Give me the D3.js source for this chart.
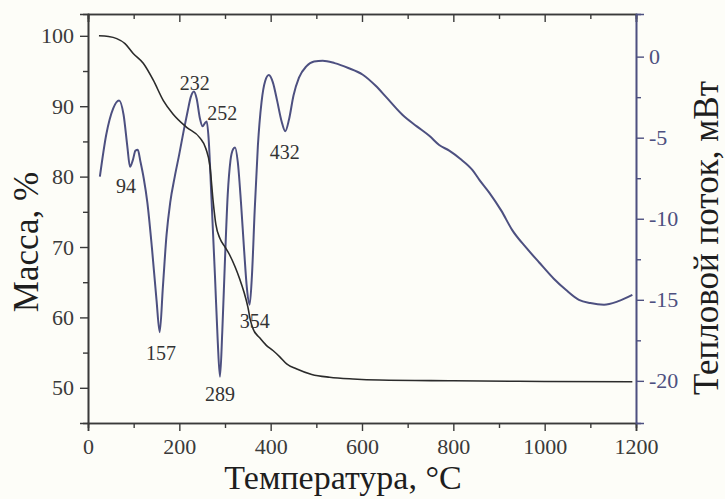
<!DOCTYPE html>
<html>
<head>
    <meta charset="utf-8" />
    <script src="https://d3js.org/d3.v7.min.js"></script>
    <style>
    body { margin: 0; background: #fdfdf8; }
    svg { display: block; font-family: "Liberation Serif", "DejaVu Serif", serif; }
    .curve { fill: none; stroke-linejoin: round; }
    </style>
</head>
<body>
<svg id="chart" width="725" height="499"></svg>
<script>
    // mass curve (TG), temperature in °C -> mass %
    var massT   = [24, 45, 63, 81, 99, 121, 143, 165, 186, 216, 245, 258, 267, 274, 280, 289, 300, 310, 322, 332, 342, 350, 356, 362, 376, 391, 405, 420, 435, 456, 490, 529, 580, 638, 800, 1000, 1192];
    var massVal = [100, 99.9, 99.6, 98.9, 97.5, 96.1, 93.7, 90.8, 88.9, 87.0, 85.5, 84.0, 81.5, 76.5, 73.2, 71.2, 70.0, 68.9, 67.2, 65.5, 63.5, 61.5, 59.5, 58.3, 57.1, 56.0, 55.3, 54.4, 53.4, 52.7, 51.9, 51.5, 51.25, 51.1, 51.0, 50.9, 50.85];

    // heat flow curve (DSC), temperature in °C -> mW
    var heatT   = [26, 40, 55, 68, 78, 86, 92, 98, 104, 109, 115, 122, 130, 140, 150, 157, 164, 172, 180, 190, 200, 210, 218, 225, 232, 238, 245, 251, 256, 260, 264, 270, 278, 284, 289, 294, 300, 306, 312, 318, 322, 328, 335, 342, 348, 354, 359, 365, 372, 380, 388, 396, 405, 414, 424, 432, 440, 450, 462, 478, 495, 514, 540, 570, 601, 630, 653, 689, 720, 748, 769, 791, 815, 842, 857, 879, 905, 929, 960, 988, 1020, 1047, 1075, 1100, 1130, 1160, 1192];
    var heatVal = [-7.4, -4.8, -3.2, -2.7, -3.6, -5.5, -6.8, -6.4, -5.8, -5.75, -6.5, -7.5, -9.0, -11.8, -15.0, -17.0, -14.2, -11.0, -9.0, -7.4, -6.0, -4.5, -3.4, -2.5, -2.15, -2.6, -3.8, -4.3, -4.1, -4.0, -5.0, -8.5, -13.5, -17.5, -19.75, -17.0, -12.5, -8.5, -6.4, -5.7, -5.6, -6.5, -9.0, -12.0, -14.3, -15.3, -13.5, -9.5, -5.5, -2.8, -1.5, -1.13, -1.6, -2.7, -4.0, -4.6, -3.9, -2.4, -1.3, -0.6, -0.3, -0.25, -0.4, -0.7, -1.1, -1.8, -2.5, -3.6, -4.3, -4.9, -5.45, -5.8, -6.3, -7.0, -7.6, -8.4, -9.5, -10.7, -11.8, -12.7, -13.7, -14.4, -15.0, -15.2, -15.3, -15.1, -14.7];

    // peak labels: text, anchor temperature, anchor heat flow
    var peakText = ["94", "157", "232", "252", "289", "354", "432"];
    var peakT    = [83, 160, 234, 294, 289, 365, 431];
    var peakHeat = [-8.0, -18.3, -1.6, -3.5, -20.8, -16.3, -5.9];

    var xTicks = [0, 200, 400, 600, 800, 1000, 1200];
    var massTicks = [50, 60, 70, 80, 90, 100];
    var heatTicks = [-20, -15, -10, -5, 0];

    var axisColor = "#3a3a3a",
        blue = "#4d5080";

    var svg = d3.select("#chart");
    var margin = {left: 88, right: 89, top: 14, bottom: 76},
        W = 725, H = 499;

    var x = d3.scaleLinear().domain([0, 1200]).range([margin.left, W - margin.right]);
    var yMass = d3.scaleLinear().domain([45, 103.1]).range([H - margin.bottom, margin.top]);
    var yHeat = d3.scaleLinear().domain([-22.6, 2.63]).range([H - margin.bottom, margin.top]);

    function styleAxis(g, color, size) {
        g.select(".domain").attr("stroke", color).attr("stroke-width", 1.6);
        g.selectAll(".tick line").attr("stroke", color).attr("stroke-width", 1.4);
        g.selectAll(".tick text").attr("fill", color).style("font-size", size + "px")
            .style("font-family", "Liberation Serif, serif");
    }

    // bottom axis: minor then major
    var bottom = H - margin.bottom;
    svg.append("g").attr("transform", "translate(0," + bottom + ")")
        .call(d3.axisBottom(x).tickValues(d3.range(100, 1200, 200)).tickSize(5).tickFormat(""))
        .call(styleAxis, axisColor, 22);
    svg.append("g").attr("transform", "translate(0," + bottom + ")")
        .call(d3.axisBottom(x).tickValues(xTicks).tickSize(8).tickPadding(7).tickFormat(d3.format("d")))
        .call(styleAxis, axisColor, 22);

    // top axis, inward ticks, no labels
    svg.append("g").attr("transform", "translate(0," + margin.top + ")")
        .call(d3.axisTop(x).tickValues(d3.range(100, 1200, 200)).tickSize(-5).tickFormat(""))
        .call(styleAxis, axisColor, 22);
    svg.append("g").attr("transform", "translate(0," + margin.top + ")")
        .call(d3.axisTop(x).tickValues(xTicks).tickSize(-8).tickFormat(""))
        .call(styleAxis, axisColor, 22);

    // left mass axis
    svg.append("g").attr("transform", "translate(" + margin.left + ",0)")
        .call(d3.axisLeft(yMass).tickValues(d3.range(55, 101, 10)).tickSize(5).tickFormat(""))
        .call(styleAxis, axisColor, 22);
    svg.append("g").attr("transform", "translate(" + margin.left + ",0)")
        .call(d3.axisLeft(yMass).tickValues(massTicks).tickSize(8).tickPadding(6).tickFormat(d3.format("d")))
        .call(styleAxis, axisColor, 22);

    // right heat flow axis (plain hyphen for negatives, as in the source)
    var right = W - margin.right;
    svg.append("g").attr("transform", "translate(" + right + ",0)")
        .call(d3.axisRight(yHeat).tickValues(d3.range(-17.5, 0, 5)).tickSize(5).tickFormat(""))
        .call(styleAxis, blue, 22);
    svg.append("g").attr("transform", "translate(" + right + ",0)")
        .call(d3.axisRight(yHeat).tickValues(heatTicks).tickSize(8).tickPadding(5)
            .tickFormat(function(d) { return String(d); }))
        .call(styleAxis, blue, 22);

    // curves
    var massLine = d3.line()
        .x(function(d, i) { return x(massT[i]); })
        .y(function(d) { return yMass(d); })
        .curve(d3.curveMonotoneX);
    var heatLine = d3.line()
        .x(function(d, i) { return x(heatT[i]); })
        .y(function(d) { return yHeat(d); })
        .curve(d3.curveMonotoneX);

    svg.append("path").attr("class", "curve").attr("d", heatLine(heatVal))
        .attr("stroke", blue).attr("stroke-width", 2);
    svg.append("path").attr("class", "curve").attr("d", massLine(massVal))
        .attr("stroke", "#2b2b2b").attr("stroke-width", 1.6);

    // peak labels
    svg.append("g").selectAll("text")
        .data(peakText)
        .enter().append("text")
        .attr("x", function(d, i) { return x(peakT[i]); })
        .attr("y", function(d, i) { return yHeat(peakHeat[i]); })
        .attr("text-anchor", "middle")
        .attr("dominant-baseline", "central")
        .attr("fill", "#333")
        .style("font-size", "20px")
        .text(function(d) { return d; });

    // axis titles
    svg.append("text")
        .attr("x", 343).attr("y", 489)
        .attr("text-anchor", "middle").attr("fill", "#1e1e1e")
        .style("font-size", "34px")
        .text("Температура, °C");
    svg.append("text")
        .attr("transform", "translate(38,242) rotate(-90)")
        .attr("text-anchor", "middle").attr("fill", "#1e1e1e")
        .style("font-size", "35px")
        .text("Масса, %");
    svg.append("text")
        .attr("transform", "translate(718,238) rotate(-90)")
        .attr("text-anchor", "middle").attr("fill", "#1e1e1e")
        .style("font-size", "35px")
        .text("Тепловой поток, мВт");
</script>
</body>
</html>
